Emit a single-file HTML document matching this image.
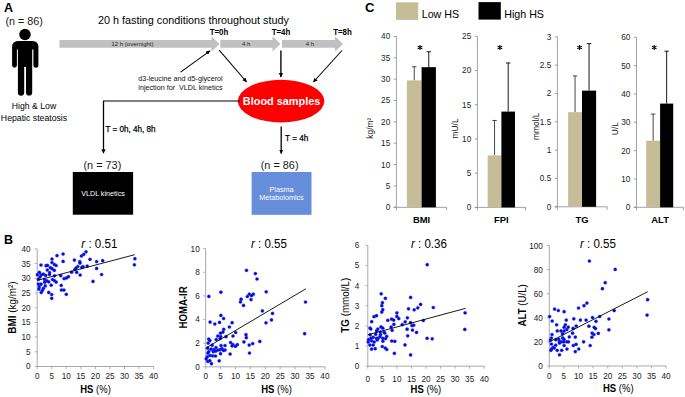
<!DOCTYPE html>
<html><head><meta charset="utf-8"><style>
html,body{margin:0;padding:0;background:#fff;}
svg{display:block;font-family:"Liberation Sans", sans-serif;}
</style></head><body>
<svg width="685" height="397" viewBox="0 0 685 397">
<rect width="685" height="397" fill="#fff"/>
<text x="4" y="11.5" font-size="12.5" font-weight="bold">A</text>
<text x="5.4" y="24.8" font-size="10.8" fill="#1a1a1a">(n = 86)</text>
<circle cx="25" cy="34.5" r="5.7" fill="#000"/>
<path d="M17.6 41 H32.9 A5.5 5.5 0 0 1 38.4 46.5 V65.3 A2.5 2.5 0 0 1 33.4 65.3 V49.5 H32.2 V92.5 A3.1 3.1 0 0 1 26.0 92.5 V67 H24.2 V92.5 A3.15 3.15 0 0 1 17.9 92.5 V49.5 H16.9 V65.3 A2.4 2.4 0 0 1 12.1 65.3 V46.5 A5.5 5.5 0 0 1 17.6 41 Z" fill="#000"/>
<text x="34" y="109.1" font-size="8.7" text-anchor="middle" textLength="44.4" lengthAdjust="spacingAndGlyphs">High &amp; Low</text>
<text x="34" y="120.9" font-size="8.7" text-anchor="middle" textLength="66.3" lengthAdjust="spacingAndGlyphs">Hepatic steatosis</text>
<text x="98" y="23.8" font-size="10.8">20 h fasting conditions throughout study</text>
<path d="M59.5 40 H211.5 V36.3 L219.5 43.9 L211.5 51.5 V47.8 H59.5 Z" fill="#c0c0c0"/>
<path d="M220.3 40 H272.5 V36.3 L280.5 43.9 L272.5 51.5 V47.8 H220.3 Z" fill="#c0c0c0"/>
<path d="M282 40 H335 V36.3 L343 43.9 L335 51.5 V47.8 H282 Z" fill="#c0c0c0"/>
<text x="132.5" y="46.2" font-size="6" text-anchor="middle" fill="#222">12 h (overnight)</text>
<text x="246.2" y="46.2" font-size="6" text-anchor="middle" fill="#222">4 h</text>
<text x="309.8" y="46.2" font-size="6" text-anchor="middle" fill="#222">4 h</text>
<text x="219.0" y="35.0" font-size="8.7" font-weight="bold" text-anchor="middle" textLength="18.6" lengthAdjust="spacingAndGlyphs">T=0h</text>
<text x="281.0" y="35.0" font-size="8.7" font-weight="bold" text-anchor="middle" textLength="18.6" lengthAdjust="spacingAndGlyphs">T=4h</text>
<text x="342.5" y="35.0" font-size="8.7" font-weight="bold" text-anchor="middle" textLength="18.6" lengthAdjust="spacingAndGlyphs">T=8h</text>
<defs><marker id="ah" markerWidth="6" markerHeight="6" refX="4" refY="3" orient="auto" markerUnits="userSpaceOnUse"><path d="M0 0.9 L4.4 3 L0 5.1 Z" fill="#000"/></marker></defs>
<line x1="180.6" y1="72.2" x2="210" y2="50.8" stroke="#000" stroke-width="1.05" marker-end="url(#ah)"/>
<line x1="219.2" y1="50.2" x2="246.6" y2="82" stroke="#000" stroke-width="1.05" marker-end="url(#ah)"/>
<line x1="280.9" y1="50.5" x2="280.9" y2="77" stroke="#000" stroke-width="1.35" marker-end="url(#ah)"/>
<line x1="342" y1="50.5" x2="313.4" y2="82" stroke="#000" stroke-width="1.05" marker-end="url(#ah)"/>
<text x="180.5" y="81.2" font-size="7.2" text-anchor="middle" fill="#111">d3-leucine and d5-glycerol</text>
<text x="180.5" y="89.6" font-size="7.2" text-anchor="middle" fill="#111">injection for&#160; VLDL kinetics</text>
<ellipse cx="281.1" cy="101.1" rx="43.3" ry="21.3" fill="#ff0000"/>
<text x="281.6" y="104.6" font-size="10.9" font-weight="bold" text-anchor="middle" fill="#fff">Blood samples</text>
<polyline points="240,101 103.5,101 103.5,148" fill="none" stroke="#000" stroke-width="1.1"/>
<line x1="103.5" y1="101" x2="103.5" y2="153.2" stroke="#000" stroke-width="1.2" marker-end="url(#ah)"/>
<text x="105.4" y="131.5" font-size="8.3" textLength="50.0" lengthAdjust="spacingAndGlyphs" stroke="#000" stroke-width="0.25">T = 0h, 4h, 8h</text>
<line x1="281.2" y1="126.4" x2="281.2" y2="153.5" stroke="#000" stroke-width="1.3" marker-end="url(#ah)"/>
<text x="285.0" y="140.8" font-size="8.3" textLength="23.3" lengthAdjust="spacingAndGlyphs" stroke="#000" stroke-width="0.25">T = 4h</text>
<text x="102.4" y="168.9" font-size="10.9" text-anchor="middle" fill="#1a1a1a">(n = 73)</text>
<text x="279.6" y="168.9" font-size="10.9" text-anchor="middle" fill="#1a1a1a">(n = 86)</text>
<rect x="72.8" y="172" width="60.3" height="42.7" fill="#000"/>
<text x="103" y="196" font-size="7.2" text-anchor="middle" fill="#fff">VLDL kinetics</text>
<rect x="251.6" y="172" width="59.9" height="42.8" fill="#678eda"/>
<text x="281.5" y="191.6" font-size="7.2" text-anchor="middle" fill="#fff">Plasma</text>
<text x="281.5" y="199.8" font-size="7.2" text-anchor="middle" fill="#fff">Metabolomics</text>
<text x="365" y="12.2" font-size="13" font-weight="bold">C</text>
<rect x="396" y="2.3" width="22.2" height="17.6" fill="#c4bd97"/>
<text x="421.7" y="17.8" font-size="10.7">Low HS</text>
<rect x="478.5" y="2.1" width="22.3" height="17.5" fill="#000"/>
<text x="504.2" y="18" font-size="10.7">High HS</text>
<line x1="396.4" y1="36.4" x2="396.4" y2="207.3" stroke="#8c8c8c" stroke-width="0.8"/>
<line x1="393.7" y1="207.3" x2="396.4" y2="207.3" stroke="#8c8c8c" stroke-width="0.8"/>
<text x="390.2" y="210.25" font-size="8.2" text-anchor="end" fill="#222">0</text>
<line x1="393.7" y1="185.9375" x2="396.4" y2="185.9375" stroke="#8c8c8c" stroke-width="0.8"/>
<text x="390.2" y="188.8875" font-size="8.2" text-anchor="end" fill="#222">5</text>
<line x1="393.7" y1="164.57500000000002" x2="396.4" y2="164.57500000000002" stroke="#8c8c8c" stroke-width="0.8"/>
<text x="390.2" y="167.525" font-size="8.2" text-anchor="end" fill="#222">10</text>
<line x1="393.7" y1="143.2125" x2="396.4" y2="143.2125" stroke="#8c8c8c" stroke-width="0.8"/>
<text x="390.2" y="146.1625" font-size="8.2" text-anchor="end" fill="#222">15</text>
<line x1="393.7" y1="121.85000000000001" x2="396.4" y2="121.85000000000001" stroke="#8c8c8c" stroke-width="0.8"/>
<text x="390.2" y="124.80000000000001" font-size="8.2" text-anchor="end" fill="#222">20</text>
<line x1="393.7" y1="100.48750000000001" x2="396.4" y2="100.48750000000001" stroke="#8c8c8c" stroke-width="0.8"/>
<text x="390.2" y="103.43750000000001" font-size="8.2" text-anchor="end" fill="#222">25</text>
<line x1="393.7" y1="79.125" x2="396.4" y2="79.125" stroke="#8c8c8c" stroke-width="0.8"/>
<text x="390.2" y="82.075" font-size="8.2" text-anchor="end" fill="#222">30</text>
<line x1="393.7" y1="57.76250000000002" x2="396.4" y2="57.76250000000002" stroke="#8c8c8c" stroke-width="0.8"/>
<text x="390.2" y="60.71250000000002" font-size="8.2" text-anchor="end" fill="#222">35</text>
<line x1="393.7" y1="36.400000000000006" x2="396.4" y2="36.400000000000006" stroke="#8c8c8c" stroke-width="0.8"/>
<text x="390.2" y="39.35000000000001" font-size="8.2" text-anchor="end" fill="#222">40</text>
<line x1="393.7" y1="207.3" x2="446.6" y2="207.3" stroke="#8c8c8c" stroke-width="0.8"/>
<line x1="446.6" y1="207.3" x2="446.6" y2="210.3" stroke="#8c8c8c" stroke-width="0.8"/>
<line x1="396.4" y1="207.3" x2="396.4" y2="210.3" stroke="#8c8c8c" stroke-width="0.8"/>
<line x1="414.25" y1="66.73475000000002" x2="414.25" y2="80.40675000000002" stroke="#333" stroke-width="0.9"/>
<line x1="412.05" y1="66.73475000000002" x2="416.45" y2="66.73475000000002" stroke="#333" stroke-width="0.9"/>
<line x1="428.75" y1="51.781000000000006" x2="428.75" y2="67.16200000000003" stroke="#000" stroke-width="0.9"/>
<line x1="426.55" y1="51.781000000000006" x2="430.95" y2="51.781000000000006" stroke="#000" stroke-width="0.9"/>
<rect x="406.9" y="80.40675000000002" width="14.700000000000045" height="126.89325" fill="#c4bd97"/>
<rect x="421.6" y="67.16200000000003" width="14.299999999999955" height="140.13799999999998" fill="#000"/>
<path d="M420.0 44.9 V50.1 M417.7 46.2 L422.3 48.8 M417.7 48.8 L422.3 46.2" stroke="#000" stroke-width="1.05" fill="none"/>
<text x="0" y="0" font-size="9.4" transform="translate(421.6 222.8) scale(1 1.06)" font-weight="bold" text-anchor="middle">BMI</text>
<text x="373.1" y="128.2" font-size="8.4" text-anchor="middle" fill="#222" transform="rotate(-90 373.1 128.2)">kg/m²</text>
<line x1="477.4" y1="36.3" x2="477.4" y2="207.4" stroke="#8c8c8c" stroke-width="0.8"/>
<line x1="474.7" y1="207.4" x2="477.4" y2="207.4" stroke="#8c8c8c" stroke-width="0.8"/>
<text x="471.2" y="210.35" font-size="8.2" text-anchor="end" fill="#222">0</text>
<line x1="474.7" y1="173.18" x2="477.4" y2="173.18" stroke="#8c8c8c" stroke-width="0.8"/>
<text x="471.2" y="176.13" font-size="8.2" text-anchor="end" fill="#222">5</text>
<line x1="474.7" y1="138.95999999999998" x2="477.4" y2="138.95999999999998" stroke="#8c8c8c" stroke-width="0.8"/>
<text x="471.2" y="141.90999999999997" font-size="8.2" text-anchor="end" fill="#222">10</text>
<line x1="474.7" y1="104.73999999999998" x2="477.4" y2="104.73999999999998" stroke="#8c8c8c" stroke-width="0.8"/>
<text x="471.2" y="107.68999999999998" font-size="8.2" text-anchor="end" fill="#222">15</text>
<line x1="474.7" y1="70.51999999999998" x2="477.4" y2="70.51999999999998" stroke="#8c8c8c" stroke-width="0.8"/>
<text x="471.2" y="73.46999999999998" font-size="8.2" text-anchor="end" fill="#222">20</text>
<line x1="474.7" y1="36.29999999999998" x2="477.4" y2="36.29999999999998" stroke="#8c8c8c" stroke-width="0.8"/>
<text x="471.2" y="39.249999999999986" font-size="8.2" text-anchor="end" fill="#222">25</text>
<line x1="474.7" y1="207.4" x2="525.5" y2="207.4" stroke="#8c8c8c" stroke-width="0.8"/>
<line x1="525.5" y1="207.4" x2="525.5" y2="210.4" stroke="#8c8c8c" stroke-width="0.8"/>
<line x1="477.4" y1="207.4" x2="477.4" y2="210.4" stroke="#8c8c8c" stroke-width="0.8"/>
<line x1="494.54999999999995" y1="120.4812" x2="494.54999999999995" y2="155.3856" stroke="#333" stroke-width="0.9"/>
<line x1="492.34999999999997" y1="120.4812" x2="496.74999999999994" y2="120.4812" stroke="#333" stroke-width="0.9"/>
<line x1="508.2" y1="62.99159999999998" x2="508.2" y2="111.58399999999999" stroke="#000" stroke-width="0.9"/>
<line x1="506.0" y1="62.99159999999998" x2="510.4" y2="62.99159999999998" stroke="#000" stroke-width="0.9"/>
<rect x="487.7" y="155.3856" width="13.699999999999989" height="52.01440000000001" fill="#c4bd97"/>
<rect x="501.4" y="111.58399999999999" width="13.600000000000023" height="95.81600000000002" fill="#000"/>
<path d="M499.9 44.9 V50.1 M497.59999999999997 46.2 L502.2 48.8 M497.59999999999997 48.8 L502.2 46.2" stroke="#000" stroke-width="1.05" fill="none"/>
<text x="0" y="0" font-size="9.4" transform="translate(501.4 222.8) scale(1 1.06)" font-weight="bold" text-anchor="middle">FPI</text>
<text x="457.6" y="128.4" font-size="8.4" text-anchor="middle" fill="#222" transform="rotate(-90 457.6 128.4)">mU/L</text>
<line x1="557.4" y1="36.8" x2="557.4" y2="206.8" stroke="#8c8c8c" stroke-width="0.8"/>
<line x1="554.6999999999999" y1="206.8" x2="557.4" y2="206.8" stroke="#8c8c8c" stroke-width="0.8"/>
<text x="551.1999999999999" y="209.75" font-size="8.2" text-anchor="end" fill="#222">0</text>
<line x1="554.6999999999999" y1="178.46666666666667" x2="557.4" y2="178.46666666666667" stroke="#8c8c8c" stroke-width="0.8"/>
<text x="551.1999999999999" y="181.41666666666666" font-size="8.2" text-anchor="end" fill="#222">0.5</text>
<line x1="554.6999999999999" y1="150.13333333333335" x2="557.4" y2="150.13333333333335" stroke="#8c8c8c" stroke-width="0.8"/>
<text x="551.1999999999999" y="153.08333333333334" font-size="8.2" text-anchor="end" fill="#222">1</text>
<line x1="554.6999999999999" y1="121.80000000000001" x2="557.4" y2="121.80000000000001" stroke="#8c8c8c" stroke-width="0.8"/>
<text x="551.1999999999999" y="124.75000000000001" font-size="8.2" text-anchor="end" fill="#222">1.5</text>
<line x1="554.6999999999999" y1="93.46666666666668" x2="557.4" y2="93.46666666666668" stroke="#8c8c8c" stroke-width="0.8"/>
<text x="551.1999999999999" y="96.41666666666669" font-size="8.2" text-anchor="end" fill="#222">2</text>
<line x1="554.6999999999999" y1="65.13333333333335" x2="557.4" y2="65.13333333333335" stroke="#8c8c8c" stroke-width="0.8"/>
<text x="551.1999999999999" y="68.08333333333336" font-size="8.2" text-anchor="end" fill="#222">2.5</text>
<line x1="554.6999999999999" y1="36.80000000000001" x2="557.4" y2="36.80000000000001" stroke="#8c8c8c" stroke-width="0.8"/>
<text x="551.1999999999999" y="39.750000000000014" font-size="8.2" text-anchor="end" fill="#222">3</text>
<line x1="554.6999999999999" y1="206.8" x2="607.1" y2="206.8" stroke="#8c8c8c" stroke-width="0.8"/>
<line x1="607.1" y1="206.8" x2="607.1" y2="209.8" stroke="#8c8c8c" stroke-width="0.8"/>
<line x1="557.4" y1="206.8" x2="557.4" y2="209.8" stroke="#8c8c8c" stroke-width="0.8"/>
<line x1="575.05" y1="75.9" x2="575.05" y2="112.16666666666669" stroke="#333" stroke-width="0.9"/>
<line x1="572.8499999999999" y1="75.9" x2="577.25" y2="75.9" stroke="#333" stroke-width="0.9"/>
<line x1="589.05" y1="43.60000000000002" x2="589.05" y2="90.63333333333335" stroke="#000" stroke-width="0.9"/>
<line x1="586.8499999999999" y1="43.60000000000002" x2="591.25" y2="43.60000000000002" stroke="#000" stroke-width="0.9"/>
<rect x="568.1" y="112.16666666666669" width="13.899999999999977" height="94.63333333333333" fill="#c4bd97"/>
<rect x="582.0" y="90.63333333333335" width="14.100000000000023" height="116.16666666666666" fill="#000"/>
<path d="M579.6 44.9 V50.1 M577.3000000000001 46.2 L581.9 48.8 M577.3000000000001 48.8 L581.9 46.2" stroke="#000" stroke-width="1.05" fill="none"/>
<text x="0" y="0" font-size="9.4" transform="translate(582.0 222.8) scale(1 1.06)" font-weight="bold" text-anchor="middle">TG</text>
<text x="539.2" y="126.3" font-size="8.4" text-anchor="middle" fill="#222" transform="rotate(-90 539.2 126.3)">mmol/L</text>
<line x1="636.5" y1="37.3" x2="636.5" y2="207.3" stroke="#8c8c8c" stroke-width="0.8"/>
<line x1="633.8" y1="207.3" x2="636.5" y2="207.3" stroke="#8c8c8c" stroke-width="0.8"/>
<text x="630.3" y="210.25" font-size="8.2" text-anchor="end" fill="#222">0</text>
<line x1="633.8" y1="178.96666666666667" x2="636.5" y2="178.96666666666667" stroke="#8c8c8c" stroke-width="0.8"/>
<text x="630.3" y="181.91666666666666" font-size="8.2" text-anchor="end" fill="#222">10</text>
<line x1="633.8" y1="150.63333333333333" x2="636.5" y2="150.63333333333333" stroke="#8c8c8c" stroke-width="0.8"/>
<text x="630.3" y="153.58333333333331" font-size="8.2" text-anchor="end" fill="#222">20</text>
<line x1="633.8" y1="122.30000000000001" x2="636.5" y2="122.30000000000001" stroke="#8c8c8c" stroke-width="0.8"/>
<text x="630.3" y="125.25000000000001" font-size="8.2" text-anchor="end" fill="#222">30</text>
<line x1="633.8" y1="93.96666666666667" x2="636.5" y2="93.96666666666667" stroke="#8c8c8c" stroke-width="0.8"/>
<text x="630.3" y="96.91666666666667" font-size="8.2" text-anchor="end" fill="#222">40</text>
<line x1="633.8" y1="65.63333333333333" x2="636.5" y2="65.63333333333333" stroke="#8c8c8c" stroke-width="0.8"/>
<text x="630.3" y="68.58333333333333" font-size="8.2" text-anchor="end" fill="#222">50</text>
<line x1="633.8" y1="37.30000000000001" x2="636.5" y2="37.30000000000001" stroke="#8c8c8c" stroke-width="0.8"/>
<text x="630.3" y="40.250000000000014" font-size="8.2" text-anchor="end" fill="#222">60</text>
<line x1="633.8" y1="207.3" x2="683.4" y2="207.3" stroke="#8c8c8c" stroke-width="0.8"/>
<line x1="683.4" y1="207.3" x2="683.4" y2="210.3" stroke="#8c8c8c" stroke-width="0.8"/>
<line x1="636.5" y1="207.3" x2="636.5" y2="210.3" stroke="#8c8c8c" stroke-width="0.8"/>
<line x1="653.1500000000001" y1="114.08333333333334" x2="653.1500000000001" y2="140.71666666666667" stroke="#333" stroke-width="0.9"/>
<line x1="650.95" y1="114.08333333333334" x2="655.3500000000001" y2="114.08333333333334" stroke="#333" stroke-width="0.9"/>
<line x1="666.6500000000001" y1="51.18333333333334" x2="666.6500000000001" y2="103.60000000000001" stroke="#000" stroke-width="0.9"/>
<line x1="664.45" y1="51.18333333333334" x2="668.8500000000001" y2="51.18333333333334" stroke="#000" stroke-width="0.9"/>
<rect x="646.2" y="140.71666666666667" width="13.899999999999977" height="66.58333333333334" fill="#c4bd97"/>
<rect x="660.1" y="103.60000000000001" width="13.100000000000023" height="103.7" fill="#000"/>
<path d="M654.2 44.9 V50.1 M651.9000000000001 46.2 L656.5 48.8 M651.9000000000001 48.8 L656.5 46.2" stroke="#000" stroke-width="1.05" fill="none"/>
<text x="0" y="0" font-size="9.4" transform="translate(660.1 222.8) scale(1 1.06)" font-weight="bold" text-anchor="middle">ALT</text>
<text x="617.7" y="128.6" font-size="8.4" text-anchor="middle" fill="#222" transform="rotate(-90 617.7 128.6)">U/L</text>
<text x="4" y="244" font-size="12.5" font-weight="bold">B</text>
<line x1="37.2" y1="248.9" x2="37.2" y2="366.5" stroke="#a8a8a8" stroke-width="1.0"/>
<line x1="34.7" y1="366.5" x2="37.2" y2="366.5" stroke="#a8a8a8" stroke-width="0.9"/>
<text x="30.6" y="369.45" font-size="8.2" text-anchor="end" fill="#222">0</text>
<line x1="34.7" y1="351.8" x2="37.2" y2="351.8" stroke="#a8a8a8" stroke-width="0.9"/>
<text x="30.6" y="354.75" font-size="8.2" text-anchor="end" fill="#222">5</text>
<line x1="34.7" y1="337.1" x2="37.2" y2="337.1" stroke="#a8a8a8" stroke-width="0.9"/>
<text x="30.6" y="340.05" font-size="8.2" text-anchor="end" fill="#222">10</text>
<line x1="34.7" y1="322.4" x2="37.2" y2="322.4" stroke="#a8a8a8" stroke-width="0.9"/>
<text x="30.6" y="325.34999999999997" font-size="8.2" text-anchor="end" fill="#222">15</text>
<line x1="34.7" y1="307.7" x2="37.2" y2="307.7" stroke="#a8a8a8" stroke-width="0.9"/>
<text x="30.6" y="310.65" font-size="8.2" text-anchor="end" fill="#222">20</text>
<line x1="34.7" y1="293.0" x2="37.2" y2="293.0" stroke="#a8a8a8" stroke-width="0.9"/>
<text x="30.6" y="295.95" font-size="8.2" text-anchor="end" fill="#222">25</text>
<line x1="34.7" y1="278.3" x2="37.2" y2="278.3" stroke="#a8a8a8" stroke-width="0.9"/>
<text x="30.6" y="281.25" font-size="8.2" text-anchor="end" fill="#222">30</text>
<line x1="34.7" y1="263.6" x2="37.2" y2="263.6" stroke="#a8a8a8" stroke-width="0.9"/>
<text x="30.6" y="266.55" font-size="8.2" text-anchor="end" fill="#222">35</text>
<line x1="34.7" y1="248.9" x2="37.2" y2="248.9" stroke="#a8a8a8" stroke-width="0.9"/>
<text x="30.6" y="251.85" font-size="8.2" text-anchor="end" fill="#222">40</text>
<line x1="37.2" y1="366.5" x2="153.6" y2="366.5" stroke="#a8a8a8" stroke-width="1.0"/>
<line x1="37.2" y1="366.5" x2="37.2" y2="369.0" stroke="#a8a8a8" stroke-width="0.9"/>
<text x="37.2" y="378.9" font-size="8.2" text-anchor="middle" fill="#222">0</text>
<line x1="51.75" y1="366.5" x2="51.75" y2="369.0" stroke="#a8a8a8" stroke-width="0.9"/>
<text x="51.75" y="378.9" font-size="8.2" text-anchor="middle" fill="#222">5</text>
<line x1="66.3" y1="366.5" x2="66.3" y2="369.0" stroke="#a8a8a8" stroke-width="0.9"/>
<text x="66.3" y="378.9" font-size="8.2" text-anchor="middle" fill="#222">10</text>
<line x1="80.85" y1="366.5" x2="80.85" y2="369.0" stroke="#a8a8a8" stroke-width="0.9"/>
<text x="80.85" y="378.9" font-size="8.2" text-anchor="middle" fill="#222">15</text>
<line x1="95.4" y1="366.5" x2="95.4" y2="369.0" stroke="#a8a8a8" stroke-width="0.9"/>
<text x="95.4" y="378.9" font-size="8.2" text-anchor="middle" fill="#222">20</text>
<line x1="109.94999999999999" y1="366.5" x2="109.94999999999999" y2="369.0" stroke="#a8a8a8" stroke-width="0.9"/>
<text x="109.94999999999999" y="378.9" font-size="8.2" text-anchor="middle" fill="#222">25</text>
<line x1="124.5" y1="366.5" x2="124.5" y2="369.0" stroke="#a8a8a8" stroke-width="0.9"/>
<text x="124.5" y="378.9" font-size="8.2" text-anchor="middle" fill="#222">30</text>
<line x1="139.05" y1="366.5" x2="139.05" y2="369.0" stroke="#a8a8a8" stroke-width="0.9"/>
<text x="139.05" y="378.9" font-size="8.2" text-anchor="middle" fill="#222">35</text>
<line x1="153.6" y1="366.5" x2="153.6" y2="369.0" stroke="#a8a8a8" stroke-width="0.9"/>
<text x="153.6" y="378.9" font-size="8.2" text-anchor="middle" fill="#222">40</text>
<circle cx="57.0" cy="255.6" r="1.6" fill="#0000ff" stroke="#2f4fa8" stroke-width="0.7" stroke-opacity="0.55"/>
<circle cx="63.1" cy="254.0" r="1.6" fill="#0000ff" stroke="#2f4fa8" stroke-width="0.7" stroke-opacity="0.55"/>
<circle cx="63.1" cy="261.4" r="1.6" fill="#0000ff" stroke="#2f4fa8" stroke-width="0.7" stroke-opacity="0.55"/>
<circle cx="52.0" cy="259.0" r="1.6" fill="#0000ff" stroke="#2f4fa8" stroke-width="0.7" stroke-opacity="0.55"/>
<circle cx="52.0" cy="262.5" r="1.6" fill="#0000ff" stroke="#2f4fa8" stroke-width="0.7" stroke-opacity="0.55"/>
<circle cx="41.0" cy="265.0" r="1.6" fill="#0000ff" stroke="#2f4fa8" stroke-width="0.7" stroke-opacity="0.55"/>
<circle cx="46.0" cy="265.7" r="1.6" fill="#0000ff" stroke="#2f4fa8" stroke-width="0.7" stroke-opacity="0.55"/>
<circle cx="47.5" cy="265.3" r="1.6" fill="#0000ff" stroke="#2f4fa8" stroke-width="0.7" stroke-opacity="0.55"/>
<circle cx="54.4" cy="264.5" r="1.6" fill="#0000ff" stroke="#2f4fa8" stroke-width="0.7" stroke-opacity="0.55"/>
<circle cx="56.1" cy="265.5" r="1.6" fill="#0000ff" stroke="#2f4fa8" stroke-width="0.7" stroke-opacity="0.55"/>
<circle cx="50.3" cy="267.6" r="1.6" fill="#0000ff" stroke="#2f4fa8" stroke-width="0.7" stroke-opacity="0.55"/>
<circle cx="52.1" cy="268.7" r="1.6" fill="#0000ff" stroke="#2f4fa8" stroke-width="0.7" stroke-opacity="0.55"/>
<circle cx="47.3" cy="270.0" r="1.6" fill="#0000ff" stroke="#2f4fa8" stroke-width="0.7" stroke-opacity="0.55"/>
<circle cx="54.3" cy="270.3" r="1.6" fill="#0000ff" stroke="#2f4fa8" stroke-width="0.7" stroke-opacity="0.55"/>
<circle cx="49.6" cy="272.5" r="1.6" fill="#0000ff" stroke="#2f4fa8" stroke-width="0.7" stroke-opacity="0.55"/>
<circle cx="39.4" cy="272.3" r="1.6" fill="#0000ff" stroke="#2f4fa8" stroke-width="0.7" stroke-opacity="0.55"/>
<circle cx="37.4" cy="274.7" r="1.6" fill="#0000ff" stroke="#2f4fa8" stroke-width="0.7" stroke-opacity="0.55"/>
<circle cx="41.2" cy="274.8" r="1.6" fill="#0000ff" stroke="#2f4fa8" stroke-width="0.7" stroke-opacity="0.55"/>
<circle cx="43.4" cy="274.1" r="1.6" fill="#0000ff" stroke="#2f4fa8" stroke-width="0.7" stroke-opacity="0.55"/>
<circle cx="45.7" cy="275.4" r="1.6" fill="#0000ff" stroke="#2f4fa8" stroke-width="0.7" stroke-opacity="0.55"/>
<circle cx="49.5" cy="274.4" r="1.6" fill="#0000ff" stroke="#2f4fa8" stroke-width="0.7" stroke-opacity="0.55"/>
<circle cx="40.0" cy="277.0" r="1.6" fill="#0000ff" stroke="#2f4fa8" stroke-width="0.7" stroke-opacity="0.55"/>
<circle cx="54.5" cy="275.8" r="1.6" fill="#0000ff" stroke="#2f4fa8" stroke-width="0.7" stroke-opacity="0.55"/>
<circle cx="60.8" cy="275.7" r="1.6" fill="#0000ff" stroke="#2f4fa8" stroke-width="0.7" stroke-opacity="0.55"/>
<circle cx="64.1" cy="278.6" r="1.6" fill="#0000ff" stroke="#2f4fa8" stroke-width="0.7" stroke-opacity="0.55"/>
<circle cx="66.5" cy="277.9" r="1.6" fill="#0000ff" stroke="#2f4fa8" stroke-width="0.7" stroke-opacity="0.55"/>
<circle cx="68.4" cy="276.7" r="1.6" fill="#0000ff" stroke="#2f4fa8" stroke-width="0.7" stroke-opacity="0.55"/>
<circle cx="71.6" cy="272.2" r="1.6" fill="#0000ff" stroke="#2f4fa8" stroke-width="0.7" stroke-opacity="0.55"/>
<circle cx="74.4" cy="260.1" r="1.6" fill="#0000ff" stroke="#2f4fa8" stroke-width="0.7" stroke-opacity="0.55"/>
<circle cx="74.8" cy="269.5" r="1.6" fill="#0000ff" stroke="#2f4fa8" stroke-width="0.7" stroke-opacity="0.55"/>
<circle cx="76.7" cy="272.3" r="1.6" fill="#0000ff" stroke="#2f4fa8" stroke-width="0.7" stroke-opacity="0.55"/>
<circle cx="77.8" cy="266.5" r="1.6" fill="#0000ff" stroke="#2f4fa8" stroke-width="0.7" stroke-opacity="0.55"/>
<circle cx="76.1" cy="268.0" r="1.6" fill="#0000ff" stroke="#2f4fa8" stroke-width="0.7" stroke-opacity="0.55"/>
<circle cx="79.8" cy="261.7" r="1.6" fill="#0000ff" stroke="#2f4fa8" stroke-width="0.7" stroke-opacity="0.55"/>
<circle cx="80.0" cy="263.1" r="1.6" fill="#0000ff" stroke="#2f4fa8" stroke-width="0.7" stroke-opacity="0.55"/>
<circle cx="81.4" cy="256.0" r="1.6" fill="#0000ff" stroke="#2f4fa8" stroke-width="0.7" stroke-opacity="0.55"/>
<circle cx="83.7" cy="254.4" r="1.6" fill="#0000ff" stroke="#2f4fa8" stroke-width="0.7" stroke-opacity="0.55"/>
<circle cx="86.0" cy="251.8" r="1.6" fill="#0000ff" stroke="#2f4fa8" stroke-width="0.7" stroke-opacity="0.55"/>
<circle cx="83.0" cy="266.6" r="1.6" fill="#0000ff" stroke="#2f4fa8" stroke-width="0.7" stroke-opacity="0.55"/>
<circle cx="81.8" cy="267.5" r="1.6" fill="#0000ff" stroke="#2f4fa8" stroke-width="0.7" stroke-opacity="0.55"/>
<circle cx="80.2" cy="275.0" r="1.6" fill="#0000ff" stroke="#2f4fa8" stroke-width="0.7" stroke-opacity="0.55"/>
<circle cx="90.0" cy="259.3" r="1.6" fill="#0000ff" stroke="#2f4fa8" stroke-width="0.7" stroke-opacity="0.55"/>
<circle cx="96.6" cy="261.6" r="1.6" fill="#0000ff" stroke="#2f4fa8" stroke-width="0.7" stroke-opacity="0.55"/>
<circle cx="102.7" cy="260.7" r="1.6" fill="#0000ff" stroke="#2f4fa8" stroke-width="0.7" stroke-opacity="0.55"/>
<circle cx="87.2" cy="266.0" r="1.6" fill="#0000ff" stroke="#2f4fa8" stroke-width="0.7" stroke-opacity="0.55"/>
<circle cx="96.6" cy="268.4" r="1.6" fill="#0000ff" stroke="#2f4fa8" stroke-width="0.7" stroke-opacity="0.55"/>
<circle cx="101.6" cy="274.5" r="1.6" fill="#0000ff" stroke="#2f4fa8" stroke-width="0.7" stroke-opacity="0.55"/>
<circle cx="93.0" cy="281.4" r="1.6" fill="#0000ff" stroke="#2f4fa8" stroke-width="0.7" stroke-opacity="0.55"/>
<circle cx="134.9" cy="258.7" r="1.6" fill="#0000ff" stroke="#2f4fa8" stroke-width="0.7" stroke-opacity="0.55"/>
<circle cx="134.4" cy="264.8" r="1.6" fill="#0000ff" stroke="#2f4fa8" stroke-width="0.7" stroke-opacity="0.55"/>
<circle cx="38.5" cy="279.2" r="1.6" fill="#0000ff" stroke="#2f4fa8" stroke-width="0.7" stroke-opacity="0.55"/>
<circle cx="44.6" cy="279.5" r="1.6" fill="#0000ff" stroke="#2f4fa8" stroke-width="0.7" stroke-opacity="0.55"/>
<circle cx="45.3" cy="280.9" r="1.6" fill="#0000ff" stroke="#2f4fa8" stroke-width="0.7" stroke-opacity="0.55"/>
<circle cx="46.8" cy="280.9" r="1.6" fill="#0000ff" stroke="#2f4fa8" stroke-width="0.7" stroke-opacity="0.55"/>
<circle cx="48.7" cy="281.8" r="1.6" fill="#0000ff" stroke="#2f4fa8" stroke-width="0.7" stroke-opacity="0.55"/>
<circle cx="44.6" cy="282.3" r="1.6" fill="#0000ff" stroke="#2f4fa8" stroke-width="0.7" stroke-opacity="0.55"/>
<circle cx="52.5" cy="279.5" r="1.6" fill="#0000ff" stroke="#2f4fa8" stroke-width="0.7" stroke-opacity="0.55"/>
<circle cx="54.4" cy="280.6" r="1.6" fill="#0000ff" stroke="#2f4fa8" stroke-width="0.7" stroke-opacity="0.55"/>
<circle cx="56.2" cy="282.1" r="1.6" fill="#0000ff" stroke="#2f4fa8" stroke-width="0.7" stroke-opacity="0.55"/>
<circle cx="38.4" cy="284.0" r="1.6" fill="#0000ff" stroke="#2f4fa8" stroke-width="0.7" stroke-opacity="0.55"/>
<circle cx="41.0" cy="284.2" r="1.6" fill="#0000ff" stroke="#2f4fa8" stroke-width="0.7" stroke-opacity="0.55"/>
<circle cx="45.3" cy="285.9" r="1.6" fill="#0000ff" stroke="#2f4fa8" stroke-width="0.7" stroke-opacity="0.55"/>
<circle cx="51.2" cy="285.2" r="1.6" fill="#0000ff" stroke="#2f4fa8" stroke-width="0.7" stroke-opacity="0.55"/>
<circle cx="61.2" cy="285.4" r="1.6" fill="#0000ff" stroke="#2f4fa8" stroke-width="0.7" stroke-opacity="0.55"/>
<circle cx="39.3" cy="286.7" r="1.6" fill="#0000ff" stroke="#2f4fa8" stroke-width="0.7" stroke-opacity="0.55"/>
<circle cx="43.4" cy="288.3" r="1.6" fill="#0000ff" stroke="#2f4fa8" stroke-width="0.7" stroke-opacity="0.55"/>
<circle cx="38.9" cy="289.1" r="1.6" fill="#0000ff" stroke="#2f4fa8" stroke-width="0.7" stroke-opacity="0.55"/>
<circle cx="42.3" cy="290.6" r="1.6" fill="#0000ff" stroke="#2f4fa8" stroke-width="0.7" stroke-opacity="0.55"/>
<circle cx="41.2" cy="292.5" r="1.6" fill="#0000ff" stroke="#2f4fa8" stroke-width="0.7" stroke-opacity="0.55"/>
<circle cx="48.7" cy="292.4" r="1.6" fill="#0000ff" stroke="#2f4fa8" stroke-width="0.7" stroke-opacity="0.55"/>
<circle cx="51.7" cy="294.5" r="1.6" fill="#0000ff" stroke="#2f4fa8" stroke-width="0.7" stroke-opacity="0.55"/>
<circle cx="51.7" cy="298.3" r="1.6" fill="#0000ff" stroke="#2f4fa8" stroke-width="0.7" stroke-opacity="0.55"/>
<circle cx="61.4" cy="290.0" r="1.6" fill="#0000ff" stroke="#2f4fa8" stroke-width="0.7" stroke-opacity="0.55"/>
<circle cx="63.9" cy="290.0" r="1.6" fill="#0000ff" stroke="#2f4fa8" stroke-width="0.7" stroke-opacity="0.55"/>
<circle cx="66.3" cy="294.3" r="1.6" fill="#0000ff" stroke="#2f4fa8" stroke-width="0.7" stroke-opacity="0.55"/>
<line x1="37.2" y1="280.4" x2="134.7" y2="254.7" stroke="#000" stroke-width="0.9"/>
<text x="0" y="0" font-size="9.5" text-anchor="middle" transform="translate(95.5 393.0) scale(1 1.13)"><tspan font-weight="bold">HS</tspan> (%)</text>
<text x="0" y="0" font-size="9.9" text-anchor="middle" transform="translate(15.9 307.6) rotate(-90) scale(1 1.13)"><tspan font-weight="bold">BMI</tspan> (kg/m²)</text>
<text x="0" y="0" font-size="11.6" transform="translate(81.3 248) scale(1 1.03)"><tspan font-style="italic">r</tspan> : 0.51</text>
<line x1="205.7" y1="248.6" x2="205.7" y2="366.8" stroke="#a8a8a8" stroke-width="1.0"/>
<line x1="203.2" y1="366.8" x2="205.7" y2="366.8" stroke="#a8a8a8" stroke-width="0.9"/>
<text x="199.7" y="369.75" font-size="8.2" text-anchor="end" fill="#222">0</text>
<line x1="203.2" y1="343.16" x2="205.7" y2="343.16" stroke="#a8a8a8" stroke-width="0.9"/>
<text x="199.7" y="346.11" font-size="8.2" text-anchor="end" fill="#222">2</text>
<line x1="203.2" y1="319.52" x2="205.7" y2="319.52" stroke="#a8a8a8" stroke-width="0.9"/>
<text x="199.7" y="322.46999999999997" font-size="8.2" text-anchor="end" fill="#222">4</text>
<line x1="203.2" y1="295.88" x2="205.7" y2="295.88" stroke="#a8a8a8" stroke-width="0.9"/>
<text x="199.7" y="298.83" font-size="8.2" text-anchor="end" fill="#222">6</text>
<line x1="203.2" y1="272.24" x2="205.7" y2="272.24" stroke="#a8a8a8" stroke-width="0.9"/>
<text x="199.7" y="275.19" font-size="8.2" text-anchor="end" fill="#222">8</text>
<line x1="203.2" y1="248.6" x2="205.7" y2="248.6" stroke="#a8a8a8" stroke-width="0.9"/>
<text x="199.7" y="251.54999999999998" font-size="8.2" text-anchor="end" fill="#222">10</text>
<line x1="205.7" y1="366.8" x2="324.9" y2="366.8" stroke="#a8a8a8" stroke-width="1.0"/>
<line x1="205.7" y1="366.8" x2="205.7" y2="369.3" stroke="#a8a8a8" stroke-width="0.9"/>
<text x="205.7" y="379.3" font-size="8.2" text-anchor="middle" fill="#222">0</text>
<line x1="220.6" y1="366.8" x2="220.6" y2="369.3" stroke="#a8a8a8" stroke-width="0.9"/>
<text x="220.6" y="379.3" font-size="8.2" text-anchor="middle" fill="#222">5</text>
<line x1="235.5" y1="366.8" x2="235.5" y2="369.3" stroke="#a8a8a8" stroke-width="0.9"/>
<text x="235.5" y="379.3" font-size="8.2" text-anchor="middle" fill="#222">10</text>
<line x1="250.39999999999998" y1="366.8" x2="250.39999999999998" y2="369.3" stroke="#a8a8a8" stroke-width="0.9"/>
<text x="250.39999999999998" y="379.3" font-size="8.2" text-anchor="middle" fill="#222">15</text>
<line x1="265.29999999999995" y1="366.8" x2="265.29999999999995" y2="369.3" stroke="#a8a8a8" stroke-width="0.9"/>
<text x="265.29999999999995" y="379.3" font-size="8.2" text-anchor="middle" fill="#222">20</text>
<line x1="280.2" y1="366.8" x2="280.2" y2="369.3" stroke="#a8a8a8" stroke-width="0.9"/>
<text x="280.2" y="379.3" font-size="8.2" text-anchor="middle" fill="#222">25</text>
<line x1="295.09999999999997" y1="366.8" x2="295.09999999999997" y2="369.3" stroke="#a8a8a8" stroke-width="0.9"/>
<text x="295.09999999999997" y="379.3" font-size="8.2" text-anchor="middle" fill="#222">30</text>
<line x1="310.0" y1="366.8" x2="310.0" y2="369.3" stroke="#a8a8a8" stroke-width="0.9"/>
<text x="310.0" y="379.3" font-size="8.2" text-anchor="middle" fill="#222">35</text>
<line x1="324.9" y1="366.8" x2="324.9" y2="369.3" stroke="#a8a8a8" stroke-width="0.9"/>
<text x="324.9" y="379.3" font-size="8.2" text-anchor="middle" fill="#222">40</text>
<circle cx="246.5" cy="270.3" r="1.6" fill="#0000ff" stroke="#2f4fa8" stroke-width="0.7" stroke-opacity="0.55"/>
<circle cx="255.4" cy="273.6" r="1.6" fill="#0000ff" stroke="#2f4fa8" stroke-width="0.7" stroke-opacity="0.55"/>
<circle cx="257.0" cy="279.0" r="1.6" fill="#0000ff" stroke="#2f4fa8" stroke-width="0.7" stroke-opacity="0.55"/>
<circle cx="220.9" cy="292.2" r="1.6" fill="#0000ff" stroke="#2f4fa8" stroke-width="0.7" stroke-opacity="0.55"/>
<circle cx="249.3" cy="294.2" r="1.6" fill="#0000ff" stroke="#2f4fa8" stroke-width="0.7" stroke-opacity="0.55"/>
<circle cx="253.3" cy="294.2" r="1.6" fill="#0000ff" stroke="#2f4fa8" stroke-width="0.7" stroke-opacity="0.55"/>
<circle cx="208.9" cy="296.4" r="1.6" fill="#0000ff" stroke="#2f4fa8" stroke-width="0.7" stroke-opacity="0.55"/>
<circle cx="247.3" cy="296.5" r="1.6" fill="#0000ff" stroke="#2f4fa8" stroke-width="0.7" stroke-opacity="0.55"/>
<circle cx="251.5" cy="295.6" r="1.6" fill="#0000ff" stroke="#2f4fa8" stroke-width="0.7" stroke-opacity="0.55"/>
<circle cx="251.0" cy="299.6" r="1.6" fill="#0000ff" stroke="#2f4fa8" stroke-width="0.7" stroke-opacity="0.55"/>
<circle cx="241.1" cy="299.2" r="1.6" fill="#0000ff" stroke="#2f4fa8" stroke-width="0.7" stroke-opacity="0.55"/>
<circle cx="240.5" cy="301.9" r="1.6" fill="#0000ff" stroke="#2f4fa8" stroke-width="0.7" stroke-opacity="0.55"/>
<circle cx="243.5" cy="305.4" r="1.6" fill="#0000ff" stroke="#2f4fa8" stroke-width="0.7" stroke-opacity="0.55"/>
<circle cx="266.2" cy="291.8" r="1.6" fill="#0000ff" stroke="#2f4fa8" stroke-width="0.7" stroke-opacity="0.55"/>
<circle cx="262.4" cy="310.9" r="1.6" fill="#0000ff" stroke="#2f4fa8" stroke-width="0.7" stroke-opacity="0.55"/>
<circle cx="272.5" cy="313.4" r="1.6" fill="#0000ff" stroke="#2f4fa8" stroke-width="0.7" stroke-opacity="0.55"/>
<circle cx="271.5" cy="319.9" r="1.6" fill="#0000ff" stroke="#2f4fa8" stroke-width="0.7" stroke-opacity="0.55"/>
<circle cx="266.0" cy="322.8" r="1.6" fill="#0000ff" stroke="#2f4fa8" stroke-width="0.7" stroke-opacity="0.55"/>
<circle cx="305.5" cy="302.0" r="1.6" fill="#0000ff" stroke="#2f4fa8" stroke-width="0.7" stroke-opacity="0.55"/>
<circle cx="304.6" cy="333.7" r="1.6" fill="#0000ff" stroke="#2f4fa8" stroke-width="0.7" stroke-opacity="0.55"/>
<circle cx="220.9" cy="315.4" r="1.6" fill="#0000ff" stroke="#2f4fa8" stroke-width="0.7" stroke-opacity="0.55"/>
<circle cx="223.6" cy="318.5" r="1.6" fill="#0000ff" stroke="#2f4fa8" stroke-width="0.7" stroke-opacity="0.55"/>
<circle cx="210.1" cy="322.1" r="1.6" fill="#0000ff" stroke="#2f4fa8" stroke-width="0.7" stroke-opacity="0.55"/>
<circle cx="214.8" cy="324.0" r="1.6" fill="#0000ff" stroke="#2f4fa8" stroke-width="0.7" stroke-opacity="0.55"/>
<circle cx="219.5" cy="322.4" r="1.6" fill="#0000ff" stroke="#2f4fa8" stroke-width="0.7" stroke-opacity="0.55"/>
<circle cx="232.1" cy="322.7" r="1.6" fill="#0000ff" stroke="#2f4fa8" stroke-width="0.7" stroke-opacity="0.55"/>
<circle cx="229.4" cy="327.0" r="1.6" fill="#0000ff" stroke="#2f4fa8" stroke-width="0.7" stroke-opacity="0.55"/>
<circle cx="223.7" cy="329.3" r="1.6" fill="#0000ff" stroke="#2f4fa8" stroke-width="0.7" stroke-opacity="0.55"/>
<circle cx="223.0" cy="332.1" r="1.6" fill="#0000ff" stroke="#2f4fa8" stroke-width="0.7" stroke-opacity="0.55"/>
<circle cx="220.5" cy="333.2" r="1.6" fill="#0000ff" stroke="#2f4fa8" stroke-width="0.7" stroke-opacity="0.55"/>
<circle cx="235.7" cy="332.5" r="1.6" fill="#0000ff" stroke="#2f4fa8" stroke-width="0.7" stroke-opacity="0.55"/>
<circle cx="217.7" cy="336.0" r="1.6" fill="#0000ff" stroke="#2f4fa8" stroke-width="0.7" stroke-opacity="0.55"/>
<circle cx="220.7" cy="336.7" r="1.6" fill="#0000ff" stroke="#2f4fa8" stroke-width="0.7" stroke-opacity="0.55"/>
<circle cx="226.0" cy="336.7" r="1.6" fill="#0000ff" stroke="#2f4fa8" stroke-width="0.7" stroke-opacity="0.55"/>
<circle cx="233.0" cy="336.0" r="1.6" fill="#0000ff" stroke="#2f4fa8" stroke-width="0.7" stroke-opacity="0.55"/>
<circle cx="208.7" cy="339.0" r="1.6" fill="#0000ff" stroke="#2f4fa8" stroke-width="0.7" stroke-opacity="0.55"/>
<circle cx="209.9" cy="340.6" r="1.6" fill="#0000ff" stroke="#2f4fa8" stroke-width="0.7" stroke-opacity="0.55"/>
<circle cx="216.2" cy="339.5" r="1.6" fill="#0000ff" stroke="#2f4fa8" stroke-width="0.7" stroke-opacity="0.55"/>
<circle cx="220.1" cy="338.6" r="1.6" fill="#0000ff" stroke="#2f4fa8" stroke-width="0.7" stroke-opacity="0.55"/>
<circle cx="208.2" cy="343.1" r="1.6" fill="#0000ff" stroke="#2f4fa8" stroke-width="0.7" stroke-opacity="0.55"/>
<circle cx="212.2" cy="345.2" r="1.6" fill="#0000ff" stroke="#2f4fa8" stroke-width="0.7" stroke-opacity="0.55"/>
<circle cx="221.0" cy="345.5" r="1.6" fill="#0000ff" stroke="#2f4fa8" stroke-width="0.7" stroke-opacity="0.55"/>
<circle cx="225.0" cy="345.5" r="1.6" fill="#0000ff" stroke="#2f4fa8" stroke-width="0.7" stroke-opacity="0.55"/>
<circle cx="230.6" cy="342.5" r="1.6" fill="#0000ff" stroke="#2f4fa8" stroke-width="0.7" stroke-opacity="0.55"/>
<circle cx="232.9" cy="344.6" r="1.6" fill="#0000ff" stroke="#2f4fa8" stroke-width="0.7" stroke-opacity="0.55"/>
<circle cx="237.3" cy="344.7" r="1.6" fill="#0000ff" stroke="#2f4fa8" stroke-width="0.7" stroke-opacity="0.55"/>
<circle cx="232.1" cy="345.9" r="1.6" fill="#0000ff" stroke="#2f4fa8" stroke-width="0.7" stroke-opacity="0.55"/>
<circle cx="235.4" cy="346.3" r="1.6" fill="#0000ff" stroke="#2f4fa8" stroke-width="0.7" stroke-opacity="0.55"/>
<circle cx="207.7" cy="348.2" r="1.6" fill="#0000ff" stroke="#2f4fa8" stroke-width="0.7" stroke-opacity="0.55"/>
<circle cx="211.1" cy="349.2" r="1.6" fill="#0000ff" stroke="#2f4fa8" stroke-width="0.7" stroke-opacity="0.55"/>
<circle cx="213.7" cy="349.7" r="1.6" fill="#0000ff" stroke="#2f4fa8" stroke-width="0.7" stroke-opacity="0.55"/>
<circle cx="216.0" cy="347.5" r="1.6" fill="#0000ff" stroke="#2f4fa8" stroke-width="0.7" stroke-opacity="0.55"/>
<circle cx="217.9" cy="350.1" r="1.6" fill="#0000ff" stroke="#2f4fa8" stroke-width="0.7" stroke-opacity="0.55"/>
<circle cx="220.1" cy="349.7" r="1.6" fill="#0000ff" stroke="#2f4fa8" stroke-width="0.7" stroke-opacity="0.55"/>
<circle cx="222.0" cy="348.6" r="1.6" fill="#0000ff" stroke="#2f4fa8" stroke-width="0.7" stroke-opacity="0.55"/>
<circle cx="225.1" cy="350.0" r="1.6" fill="#0000ff" stroke="#2f4fa8" stroke-width="0.7" stroke-opacity="0.55"/>
<circle cx="223.5" cy="350.5" r="1.6" fill="#0000ff" stroke="#2f4fa8" stroke-width="0.7" stroke-opacity="0.55"/>
<circle cx="208.8" cy="351.5" r="1.6" fill="#0000ff" stroke="#2f4fa8" stroke-width="0.7" stroke-opacity="0.55"/>
<circle cx="213.3" cy="351.6" r="1.6" fill="#0000ff" stroke="#2f4fa8" stroke-width="0.7" stroke-opacity="0.55"/>
<circle cx="215.6" cy="351.2" r="1.6" fill="#0000ff" stroke="#2f4fa8" stroke-width="0.7" stroke-opacity="0.55"/>
<circle cx="207.9" cy="353.1" r="1.6" fill="#0000ff" stroke="#2f4fa8" stroke-width="0.7" stroke-opacity="0.55"/>
<circle cx="220.5" cy="353.7" r="1.6" fill="#0000ff" stroke="#2f4fa8" stroke-width="0.7" stroke-opacity="0.55"/>
<circle cx="230.1" cy="354.0" r="1.6" fill="#0000ff" stroke="#2f4fa8" stroke-width="0.7" stroke-opacity="0.55"/>
<circle cx="207.3" cy="356.8" r="1.6" fill="#0000ff" stroke="#2f4fa8" stroke-width="0.7" stroke-opacity="0.55"/>
<circle cx="210.0" cy="355.5" r="1.6" fill="#0000ff" stroke="#2f4fa8" stroke-width="0.7" stroke-opacity="0.55"/>
<circle cx="212.6" cy="355.8" r="1.6" fill="#0000ff" stroke="#2f4fa8" stroke-width="0.7" stroke-opacity="0.55"/>
<circle cx="215.5" cy="356.0" r="1.6" fill="#0000ff" stroke="#2f4fa8" stroke-width="0.7" stroke-opacity="0.55"/>
<circle cx="206.2" cy="358.8" r="1.6" fill="#0000ff" stroke="#2f4fa8" stroke-width="0.7" stroke-opacity="0.55"/>
<circle cx="207.9" cy="361.4" r="1.6" fill="#0000ff" stroke="#2f4fa8" stroke-width="0.7" stroke-opacity="0.55"/>
<circle cx="209.9" cy="360.7" r="1.6" fill="#0000ff" stroke="#2f4fa8" stroke-width="0.7" stroke-opacity="0.55"/>
<circle cx="219.2" cy="360.8" r="1.6" fill="#0000ff" stroke="#2f4fa8" stroke-width="0.7" stroke-opacity="0.55"/>
<circle cx="211.5" cy="363.7" r="1.6" fill="#0000ff" stroke="#2f4fa8" stroke-width="0.7" stroke-opacity="0.55"/>
<circle cx="246.0" cy="334.7" r="1.6" fill="#0000ff" stroke="#2f4fa8" stroke-width="0.7" stroke-opacity="0.55"/>
<circle cx="246.3" cy="337.7" r="1.6" fill="#0000ff" stroke="#2f4fa8" stroke-width="0.7" stroke-opacity="0.55"/>
<circle cx="243.9" cy="341.9" r="1.6" fill="#0000ff" stroke="#2f4fa8" stroke-width="0.7" stroke-opacity="0.55"/>
<circle cx="249.2" cy="345.1" r="1.6" fill="#0000ff" stroke="#2f4fa8" stroke-width="0.7" stroke-opacity="0.55"/>
<circle cx="252.7" cy="343.6" r="1.6" fill="#0000ff" stroke="#2f4fa8" stroke-width="0.7" stroke-opacity="0.55"/>
<circle cx="259.8" cy="341.4" r="1.6" fill="#0000ff" stroke="#2f4fa8" stroke-width="0.7" stroke-opacity="0.55"/>
<circle cx="249.5" cy="353.0" r="1.6" fill="#0000ff" stroke="#2f4fa8" stroke-width="0.7" stroke-opacity="0.55"/>
<line x1="205.7" y1="348.1" x2="305.9" y2="288.8" stroke="#000" stroke-width="0.9"/>
<text x="0" y="0" font-size="9.5" text-anchor="middle" transform="translate(276.5 393.1) scale(1 1.13)"><tspan font-weight="bold">HS</tspan> (%)</text>
<text x="0" y="0" font-size="9.6" text-anchor="middle" transform="translate(186.8 307.4) rotate(-90) scale(1 1.13)"><tspan font-weight="bold">HOMA-IR</tspan></text>
<text x="0" y="0" font-size="11.6" transform="translate(250.9 248) scale(1 1.03)"><tspan font-style="italic">r</tspan> : 0.55</text>
<line x1="367.8" y1="245.4" x2="367.8" y2="366.2" stroke="#a8a8a8" stroke-width="1.0"/>
<line x1="365.3" y1="366.2" x2="367.8" y2="366.2" stroke="#a8a8a8" stroke-width="0.9"/>
<text x="359.40000000000003" y="369.15" font-size="8.2" text-anchor="end" fill="#222">0</text>
<line x1="365.3" y1="346.06666666666666" x2="367.8" y2="346.06666666666666" stroke="#a8a8a8" stroke-width="0.9"/>
<text x="359.40000000000003" y="349.01666666666665" font-size="8.2" text-anchor="end" fill="#222">1</text>
<line x1="365.3" y1="325.93333333333334" x2="367.8" y2="325.93333333333334" stroke="#a8a8a8" stroke-width="0.9"/>
<text x="359.40000000000003" y="328.8833333333333" font-size="8.2" text-anchor="end" fill="#222">2</text>
<line x1="365.3" y1="305.8" x2="367.8" y2="305.8" stroke="#a8a8a8" stroke-width="0.9"/>
<text x="359.40000000000003" y="308.75" font-size="8.2" text-anchor="end" fill="#222">3</text>
<line x1="365.3" y1="285.6666666666667" x2="367.8" y2="285.6666666666667" stroke="#a8a8a8" stroke-width="0.9"/>
<text x="359.40000000000003" y="288.6166666666667" font-size="8.2" text-anchor="end" fill="#222">4</text>
<line x1="365.3" y1="265.53333333333336" x2="367.8" y2="265.53333333333336" stroke="#a8a8a8" stroke-width="0.9"/>
<text x="359.40000000000003" y="268.48333333333335" font-size="8.2" text-anchor="end" fill="#222">5</text>
<line x1="365.3" y1="245.4" x2="367.8" y2="245.4" stroke="#a8a8a8" stroke-width="0.9"/>
<text x="359.40000000000003" y="248.35" font-size="8.2" text-anchor="end" fill="#222">6</text>
<line x1="367.8" y1="366.2" x2="484.2" y2="366.2" stroke="#a8a8a8" stroke-width="1.0"/>
<line x1="367.8" y1="366.2" x2="367.8" y2="368.7" stroke="#a8a8a8" stroke-width="0.9"/>
<text x="0" y="0" font-size="8.2" transform="translate(367.8 382.2) scale(1 1.14)" text-anchor="middle" fill="#222">0</text>
<line x1="382.35" y1="366.2" x2="382.35" y2="368.7" stroke="#a8a8a8" stroke-width="0.9"/>
<text x="0" y="0" font-size="8.2" transform="translate(382.35 382.2) scale(1 1.14)" text-anchor="middle" fill="#222">5</text>
<line x1="396.9" y1="366.2" x2="396.9" y2="368.7" stroke="#a8a8a8" stroke-width="0.9"/>
<text x="0" y="0" font-size="8.2" transform="translate(396.9 382.2) scale(1 1.14)" text-anchor="middle" fill="#222">10</text>
<line x1="411.45" y1="366.2" x2="411.45" y2="368.7" stroke="#a8a8a8" stroke-width="0.9"/>
<text x="0" y="0" font-size="8.2" transform="translate(411.45 382.2) scale(1 1.14)" text-anchor="middle" fill="#222">15</text>
<line x1="426.0" y1="366.2" x2="426.0" y2="368.7" stroke="#a8a8a8" stroke-width="0.9"/>
<text x="0" y="0" font-size="8.2" transform="translate(426.0 382.2) scale(1 1.14)" text-anchor="middle" fill="#222">20</text>
<line x1="440.55" y1="366.2" x2="440.55" y2="368.7" stroke="#a8a8a8" stroke-width="0.9"/>
<text x="0" y="0" font-size="8.2" transform="translate(440.55 382.2) scale(1 1.14)" text-anchor="middle" fill="#222">25</text>
<line x1="455.1" y1="366.2" x2="455.1" y2="368.7" stroke="#a8a8a8" stroke-width="0.9"/>
<text x="0" y="0" font-size="8.2" transform="translate(455.1 382.2) scale(1 1.14)" text-anchor="middle" fill="#222">30</text>
<line x1="469.65" y1="366.2" x2="469.65" y2="368.7" stroke="#a8a8a8" stroke-width="0.9"/>
<text x="0" y="0" font-size="8.2" transform="translate(469.65 382.2) scale(1 1.14)" text-anchor="middle" fill="#222">35</text>
<line x1="484.2" y1="366.2" x2="484.2" y2="368.7" stroke="#a8a8a8" stroke-width="0.9"/>
<text x="0" y="0" font-size="8.2" transform="translate(484.2 382.2) scale(1 1.14)" text-anchor="middle" fill="#222">40</text>
<circle cx="381.2" cy="293.8" r="1.6" fill="#0000ff" stroke="#2f4fa8" stroke-width="0.7" stroke-opacity="0.55"/>
<circle cx="385.4" cy="298.3" r="1.6" fill="#0000ff" stroke="#2f4fa8" stroke-width="0.7" stroke-opacity="0.55"/>
<circle cx="382.4" cy="302.7" r="1.6" fill="#0000ff" stroke="#2f4fa8" stroke-width="0.7" stroke-opacity="0.55"/>
<circle cx="381.8" cy="305.7" r="1.6" fill="#0000ff" stroke="#2f4fa8" stroke-width="0.7" stroke-opacity="0.55"/>
<circle cx="382.8" cy="309.7" r="1.6" fill="#0000ff" stroke="#2f4fa8" stroke-width="0.7" stroke-opacity="0.55"/>
<circle cx="381.8" cy="312.1" r="1.6" fill="#0000ff" stroke="#2f4fa8" stroke-width="0.7" stroke-opacity="0.55"/>
<circle cx="376.5" cy="315.7" r="1.6" fill="#0000ff" stroke="#2f4fa8" stroke-width="0.7" stroke-opacity="0.55"/>
<circle cx="374.0" cy="316.7" r="1.6" fill="#0000ff" stroke="#2f4fa8" stroke-width="0.7" stroke-opacity="0.55"/>
<circle cx="396.9" cy="312.8" r="1.6" fill="#0000ff" stroke="#2f4fa8" stroke-width="0.7" stroke-opacity="0.55"/>
<circle cx="396.9" cy="316.4" r="1.6" fill="#0000ff" stroke="#2f4fa8" stroke-width="0.7" stroke-opacity="0.55"/>
<circle cx="398.8" cy="318.6" r="1.6" fill="#0000ff" stroke="#2f4fa8" stroke-width="0.7" stroke-opacity="0.55"/>
<circle cx="391.6" cy="319.1" r="1.6" fill="#0000ff" stroke="#2f4fa8" stroke-width="0.7" stroke-opacity="0.55"/>
<circle cx="393.7" cy="320.1" r="1.6" fill="#0000ff" stroke="#2f4fa8" stroke-width="0.7" stroke-opacity="0.55"/>
<circle cx="387.8" cy="320.3" r="1.6" fill="#0000ff" stroke="#2f4fa8" stroke-width="0.7" stroke-opacity="0.55"/>
<circle cx="371.7" cy="321.7" r="1.6" fill="#0000ff" stroke="#2f4fa8" stroke-width="0.7" stroke-opacity="0.55"/>
<circle cx="393.9" cy="324.4" r="1.6" fill="#0000ff" stroke="#2f4fa8" stroke-width="0.7" stroke-opacity="0.55"/>
<circle cx="402.2" cy="324.6" r="1.6" fill="#0000ff" stroke="#2f4fa8" stroke-width="0.7" stroke-opacity="0.55"/>
<circle cx="370.0" cy="328.0" r="1.6" fill="#0000ff" stroke="#2f4fa8" stroke-width="0.7" stroke-opacity="0.55"/>
<circle cx="370.8" cy="329.0" r="1.6" fill="#0000ff" stroke="#2f4fa8" stroke-width="0.7" stroke-opacity="0.55"/>
<circle cx="381.0" cy="326.9" r="1.6" fill="#0000ff" stroke="#2f4fa8" stroke-width="0.7" stroke-opacity="0.55"/>
<circle cx="382.8" cy="328.2" r="1.6" fill="#0000ff" stroke="#2f4fa8" stroke-width="0.7" stroke-opacity="0.55"/>
<circle cx="377.8" cy="329.0" r="1.6" fill="#0000ff" stroke="#2f4fa8" stroke-width="0.7" stroke-opacity="0.55"/>
<circle cx="376.5" cy="330.8" r="1.6" fill="#0000ff" stroke="#2f4fa8" stroke-width="0.7" stroke-opacity="0.55"/>
<circle cx="391.1" cy="327.0" r="1.6" fill="#0000ff" stroke="#2f4fa8" stroke-width="0.7" stroke-opacity="0.55"/>
<circle cx="392.1" cy="330.3" r="1.6" fill="#0000ff" stroke="#2f4fa8" stroke-width="0.7" stroke-opacity="0.55"/>
<circle cx="380.3" cy="332.1" r="1.6" fill="#0000ff" stroke="#2f4fa8" stroke-width="0.7" stroke-opacity="0.55"/>
<circle cx="384.0" cy="332.0" r="1.6" fill="#0000ff" stroke="#2f4fa8" stroke-width="0.7" stroke-opacity="0.55"/>
<circle cx="384.8" cy="333.1" r="1.6" fill="#0000ff" stroke="#2f4fa8" stroke-width="0.7" stroke-opacity="0.55"/>
<circle cx="375.7" cy="334.3" r="1.6" fill="#0000ff" stroke="#2f4fa8" stroke-width="0.7" stroke-opacity="0.55"/>
<circle cx="380.5" cy="334.6" r="1.6" fill="#0000ff" stroke="#2f4fa8" stroke-width="0.7" stroke-opacity="0.55"/>
<circle cx="386.7" cy="336.3" r="1.6" fill="#0000ff" stroke="#2f4fa8" stroke-width="0.7" stroke-opacity="0.55"/>
<circle cx="370.2" cy="334.8" r="1.6" fill="#0000ff" stroke="#2f4fa8" stroke-width="0.7" stroke-opacity="0.55"/>
<circle cx="373.1" cy="337.3" r="1.6" fill="#0000ff" stroke="#2f4fa8" stroke-width="0.7" stroke-opacity="0.55"/>
<circle cx="370.8" cy="338.3" r="1.6" fill="#0000ff" stroke="#2f4fa8" stroke-width="0.7" stroke-opacity="0.55"/>
<circle cx="376.5" cy="338.3" r="1.6" fill="#0000ff" stroke="#2f4fa8" stroke-width="0.7" stroke-opacity="0.55"/>
<circle cx="378.0" cy="338.3" r="1.6" fill="#0000ff" stroke="#2f4fa8" stroke-width="0.7" stroke-opacity="0.55"/>
<circle cx="380.0" cy="336.7" r="1.6" fill="#0000ff" stroke="#2f4fa8" stroke-width="0.7" stroke-opacity="0.55"/>
<circle cx="382.8" cy="338.3" r="1.6" fill="#0000ff" stroke="#2f4fa8" stroke-width="0.7" stroke-opacity="0.55"/>
<circle cx="385.6" cy="338.6" r="1.6" fill="#0000ff" stroke="#2f4fa8" stroke-width="0.7" stroke-opacity="0.55"/>
<circle cx="368.5" cy="339.7" r="1.6" fill="#0000ff" stroke="#2f4fa8" stroke-width="0.7" stroke-opacity="0.55"/>
<circle cx="371.6" cy="340.8" r="1.6" fill="#0000ff" stroke="#2f4fa8" stroke-width="0.7" stroke-opacity="0.55"/>
<circle cx="368.2" cy="342.0" r="1.6" fill="#0000ff" stroke="#2f4fa8" stroke-width="0.7" stroke-opacity="0.55"/>
<circle cx="374.2" cy="342.0" r="1.6" fill="#0000ff" stroke="#2f4fa8" stroke-width="0.7" stroke-opacity="0.55"/>
<circle cx="382.9" cy="341.2" r="1.6" fill="#0000ff" stroke="#2f4fa8" stroke-width="0.7" stroke-opacity="0.55"/>
<circle cx="391.7" cy="341.0" r="1.6" fill="#0000ff" stroke="#2f4fa8" stroke-width="0.7" stroke-opacity="0.55"/>
<circle cx="394.8" cy="341.3" r="1.6" fill="#0000ff" stroke="#2f4fa8" stroke-width="0.7" stroke-opacity="0.55"/>
<circle cx="377.2" cy="340.0" r="1.6" fill="#0000ff" stroke="#2f4fa8" stroke-width="0.7" stroke-opacity="0.55"/>
<circle cx="369.9" cy="345.0" r="1.6" fill="#0000ff" stroke="#2f4fa8" stroke-width="0.7" stroke-opacity="0.55"/>
<circle cx="373.2" cy="345.0" r="1.6" fill="#0000ff" stroke="#2f4fa8" stroke-width="0.7" stroke-opacity="0.55"/>
<circle cx="382.3" cy="346.5" r="1.6" fill="#0000ff" stroke="#2f4fa8" stroke-width="0.7" stroke-opacity="0.55"/>
<circle cx="385.3" cy="348.0" r="1.6" fill="#0000ff" stroke="#2f4fa8" stroke-width="0.7" stroke-opacity="0.55"/>
<circle cx="386.8" cy="349.5" r="1.6" fill="#0000ff" stroke="#2f4fa8" stroke-width="0.7" stroke-opacity="0.55"/>
<circle cx="371.6" cy="349.1" r="1.6" fill="#0000ff" stroke="#2f4fa8" stroke-width="0.7" stroke-opacity="0.55"/>
<circle cx="375.2" cy="348.7" r="1.6" fill="#0000ff" stroke="#2f4fa8" stroke-width="0.7" stroke-opacity="0.55"/>
<circle cx="394.4" cy="353.3" r="1.6" fill="#0000ff" stroke="#2f4fa8" stroke-width="0.7" stroke-opacity="0.55"/>
<circle cx="405.0" cy="344.9" r="1.6" fill="#0000ff" stroke="#2f4fa8" stroke-width="0.7" stroke-opacity="0.55"/>
<circle cx="410.6" cy="354.9" r="1.6" fill="#0000ff" stroke="#2f4fa8" stroke-width="0.7" stroke-opacity="0.55"/>
<circle cx="410.6" cy="297.4" r="1.6" fill="#0000ff" stroke="#2f4fa8" stroke-width="0.7" stroke-opacity="0.55"/>
<circle cx="420.6" cy="304.4" r="1.6" fill="#0000ff" stroke="#2f4fa8" stroke-width="0.7" stroke-opacity="0.55"/>
<circle cx="417.8" cy="307.8" r="1.6" fill="#0000ff" stroke="#2f4fa8" stroke-width="0.7" stroke-opacity="0.55"/>
<circle cx="414.2" cy="309.8" r="1.6" fill="#0000ff" stroke="#2f4fa8" stroke-width="0.7" stroke-opacity="0.55"/>
<circle cx="408.5" cy="308.8" r="1.6" fill="#0000ff" stroke="#2f4fa8" stroke-width="0.7" stroke-opacity="0.55"/>
<circle cx="433.3" cy="307.5" r="1.6" fill="#0000ff" stroke="#2f4fa8" stroke-width="0.7" stroke-opacity="0.55"/>
<circle cx="407.4" cy="317.8" r="1.6" fill="#0000ff" stroke="#2f4fa8" stroke-width="0.7" stroke-opacity="0.55"/>
<circle cx="405.2" cy="321.8" r="1.6" fill="#0000ff" stroke="#2f4fa8" stroke-width="0.7" stroke-opacity="0.55"/>
<circle cx="410.5" cy="322.6" r="1.6" fill="#0000ff" stroke="#2f4fa8" stroke-width="0.7" stroke-opacity="0.55"/>
<circle cx="412.0" cy="325.6" r="1.6" fill="#0000ff" stroke="#2f4fa8" stroke-width="0.7" stroke-opacity="0.55"/>
<circle cx="413.7" cy="325.2" r="1.6" fill="#0000ff" stroke="#2f4fa8" stroke-width="0.7" stroke-opacity="0.55"/>
<circle cx="423.3" cy="320.5" r="1.6" fill="#0000ff" stroke="#2f4fa8" stroke-width="0.7" stroke-opacity="0.55"/>
<circle cx="407.1" cy="329.2" r="1.6" fill="#0000ff" stroke="#2f4fa8" stroke-width="0.7" stroke-opacity="0.55"/>
<circle cx="412.5" cy="330.1" r="1.6" fill="#0000ff" stroke="#2f4fa8" stroke-width="0.7" stroke-opacity="0.55"/>
<circle cx="416.5" cy="332.4" r="1.6" fill="#0000ff" stroke="#2f4fa8" stroke-width="0.7" stroke-opacity="0.55"/>
<circle cx="407.7" cy="335.8" r="1.6" fill="#0000ff" stroke="#2f4fa8" stroke-width="0.7" stroke-opacity="0.55"/>
<circle cx="427.1" cy="338.3" r="1.6" fill="#0000ff" stroke="#2f4fa8" stroke-width="0.7" stroke-opacity="0.55"/>
<circle cx="432.2" cy="338.8" r="1.6" fill="#0000ff" stroke="#2f4fa8" stroke-width="0.7" stroke-opacity="0.55"/>
<circle cx="427.2" cy="264.7" r="1.6" fill="#0000ff" stroke="#2f4fa8" stroke-width="0.7" stroke-opacity="0.55"/>
<circle cx="465.1" cy="312.8" r="1.6" fill="#0000ff" stroke="#2f4fa8" stroke-width="0.7" stroke-opacity="0.55"/>
<circle cx="464.8" cy="329.4" r="1.6" fill="#0000ff" stroke="#2f4fa8" stroke-width="0.7" stroke-opacity="0.55"/>
<line x1="367.8" y1="334.8" x2="465.7" y2="308.3" stroke="#000" stroke-width="0.9"/>
<text x="0" y="0" font-size="9.5" text-anchor="middle" transform="translate(425.9 392.5) scale(1 1.13)"><tspan font-weight="bold">HS</tspan> (%)</text>
<text x="0" y="0" font-size="9.8" text-anchor="middle" transform="translate(349.0 305.2) rotate(-90) scale(1 1.13)"><tspan font-weight="bold">TG</tspan> (mmol/L)</text>
<text x="0" y="0" font-size="11.6" transform="translate(410.9 248) scale(1 1.03)"><tspan font-style="italic">r</tspan> : 0.36</text>
<line x1="549.3" y1="245.6" x2="549.3" y2="366.0" stroke="#a8a8a8" stroke-width="1.0"/>
<line x1="546.8" y1="366.0" x2="549.3" y2="366.0" stroke="#a8a8a8" stroke-width="0.9"/>
<text x="542.9" y="368.95" font-size="8.2" text-anchor="end" fill="#222">0</text>
<line x1="546.8" y1="341.92" x2="549.3" y2="341.92" stroke="#a8a8a8" stroke-width="0.9"/>
<text x="542.9" y="344.87" font-size="8.2" text-anchor="end" fill="#222">20</text>
<line x1="546.8" y1="317.84000000000003" x2="549.3" y2="317.84000000000003" stroke="#a8a8a8" stroke-width="0.9"/>
<text x="542.9" y="320.79" font-size="8.2" text-anchor="end" fill="#222">40</text>
<line x1="546.8" y1="293.76" x2="549.3" y2="293.76" stroke="#a8a8a8" stroke-width="0.9"/>
<text x="542.9" y="296.71" font-size="8.2" text-anchor="end" fill="#222">60</text>
<line x1="546.8" y1="269.68" x2="549.3" y2="269.68" stroke="#a8a8a8" stroke-width="0.9"/>
<text x="542.9" y="272.63" font-size="8.2" text-anchor="end" fill="#222">80</text>
<line x1="546.8" y1="245.60000000000002" x2="549.3" y2="245.60000000000002" stroke="#a8a8a8" stroke-width="0.9"/>
<text x="542.9" y="248.55" font-size="8.2" text-anchor="end" fill="#222">100</text>
<line x1="549.3" y1="366.0" x2="666.1" y2="366.0" stroke="#a8a8a8" stroke-width="1.0"/>
<line x1="549.3" y1="366.0" x2="549.3" y2="368.5" stroke="#a8a8a8" stroke-width="0.9"/>
<text x="549.3" y="378.8" font-size="8.2" text-anchor="middle" fill="#222">0</text>
<line x1="563.9" y1="366.0" x2="563.9" y2="368.5" stroke="#a8a8a8" stroke-width="0.9"/>
<text x="563.9" y="378.8" font-size="8.2" text-anchor="middle" fill="#222">5</text>
<line x1="578.5" y1="366.0" x2="578.5" y2="368.5" stroke="#a8a8a8" stroke-width="0.9"/>
<text x="578.5" y="378.8" font-size="8.2" text-anchor="middle" fill="#222">10</text>
<line x1="593.1" y1="366.0" x2="593.1" y2="368.5" stroke="#a8a8a8" stroke-width="0.9"/>
<text x="593.1" y="378.8" font-size="8.2" text-anchor="middle" fill="#222">15</text>
<line x1="607.7" y1="366.0" x2="607.7" y2="368.5" stroke="#a8a8a8" stroke-width="0.9"/>
<text x="607.7" y="378.8" font-size="8.2" text-anchor="middle" fill="#222">20</text>
<line x1="622.3" y1="366.0" x2="622.3" y2="368.5" stroke="#a8a8a8" stroke-width="0.9"/>
<text x="622.3" y="378.8" font-size="8.2" text-anchor="middle" fill="#222">25</text>
<line x1="636.9" y1="366.0" x2="636.9" y2="368.5" stroke="#a8a8a8" stroke-width="0.9"/>
<text x="636.9" y="378.8" font-size="8.2" text-anchor="middle" fill="#222">30</text>
<line x1="651.5" y1="366.0" x2="651.5" y2="368.5" stroke="#a8a8a8" stroke-width="0.9"/>
<text x="651.5" y="378.8" font-size="8.2" text-anchor="middle" fill="#222">35</text>
<line x1="666.1" y1="366.0" x2="666.1" y2="368.5" stroke="#a8a8a8" stroke-width="0.9"/>
<text x="666.1" y="378.8" font-size="8.2" text-anchor="middle" fill="#222">40</text>
<circle cx="589.4" cy="261.0" r="1.6" fill="#0000ff" stroke="#2f4fa8" stroke-width="0.7" stroke-opacity="0.55"/>
<circle cx="615.2" cy="269.4" r="1.6" fill="#0000ff" stroke="#2f4fa8" stroke-width="0.7" stroke-opacity="0.55"/>
<circle cx="605.2" cy="282.7" r="1.6" fill="#0000ff" stroke="#2f4fa8" stroke-width="0.7" stroke-opacity="0.55"/>
<circle cx="602.4" cy="288.7" r="1.6" fill="#0000ff" stroke="#2f4fa8" stroke-width="0.7" stroke-opacity="0.55"/>
<circle cx="554.6" cy="309.1" r="1.6" fill="#0000ff" stroke="#2f4fa8" stroke-width="0.7" stroke-opacity="0.55"/>
<circle cx="558.3" cy="310.5" r="1.6" fill="#0000ff" stroke="#2f4fa8" stroke-width="0.7" stroke-opacity="0.55"/>
<circle cx="564.1" cy="311.7" r="1.6" fill="#0000ff" stroke="#2f4fa8" stroke-width="0.7" stroke-opacity="0.55"/>
<circle cx="578.5" cy="308.0" r="1.6" fill="#0000ff" stroke="#2f4fa8" stroke-width="0.7" stroke-opacity="0.55"/>
<circle cx="584.0" cy="305.7" r="1.6" fill="#0000ff" stroke="#2f4fa8" stroke-width="0.7" stroke-opacity="0.55"/>
<circle cx="586.9" cy="303.1" r="1.6" fill="#0000ff" stroke="#2f4fa8" stroke-width="0.7" stroke-opacity="0.55"/>
<circle cx="614.2" cy="310.6" r="1.6" fill="#0000ff" stroke="#2f4fa8" stroke-width="0.7" stroke-opacity="0.55"/>
<circle cx="647.6" cy="299.7" r="1.6" fill="#0000ff" stroke="#2f4fa8" stroke-width="0.7" stroke-opacity="0.55"/>
<circle cx="647.1" cy="315.1" r="1.6" fill="#0000ff" stroke="#2f4fa8" stroke-width="0.7" stroke-opacity="0.55"/>
<circle cx="549.6" cy="316.5" r="1.6" fill="#0000ff" stroke="#2f4fa8" stroke-width="0.7" stroke-opacity="0.55"/>
<circle cx="552.2" cy="321.0" r="1.6" fill="#0000ff" stroke="#2f4fa8" stroke-width="0.7" stroke-opacity="0.55"/>
<circle cx="566.3" cy="320.1" r="1.6" fill="#0000ff" stroke="#2f4fa8" stroke-width="0.7" stroke-opacity="0.55"/>
<circle cx="573.8" cy="318.8" r="1.6" fill="#0000ff" stroke="#2f4fa8" stroke-width="0.7" stroke-opacity="0.55"/>
<circle cx="580.4" cy="320.1" r="1.6" fill="#0000ff" stroke="#2f4fa8" stroke-width="0.7" stroke-opacity="0.55"/>
<circle cx="586.1" cy="320.1" r="1.6" fill="#0000ff" stroke="#2f4fa8" stroke-width="0.7" stroke-opacity="0.55"/>
<circle cx="592.5" cy="317.5" r="1.6" fill="#0000ff" stroke="#2f4fa8" stroke-width="0.7" stroke-opacity="0.55"/>
<circle cx="599.7" cy="316.5" r="1.6" fill="#0000ff" stroke="#2f4fa8" stroke-width="0.7" stroke-opacity="0.55"/>
<circle cx="596.0" cy="321.3" r="1.6" fill="#0000ff" stroke="#2f4fa8" stroke-width="0.7" stroke-opacity="0.55"/>
<circle cx="608.9" cy="319.0" r="1.6" fill="#0000ff" stroke="#2f4fa8" stroke-width="0.7" stroke-opacity="0.55"/>
<circle cx="556.6" cy="324.8" r="1.6" fill="#0000ff" stroke="#2f4fa8" stroke-width="0.7" stroke-opacity="0.55"/>
<circle cx="565.3" cy="324.8" r="1.6" fill="#0000ff" stroke="#2f4fa8" stroke-width="0.7" stroke-opacity="0.55"/>
<circle cx="564.1" cy="327.3" r="1.6" fill="#0000ff" stroke="#2f4fa8" stroke-width="0.7" stroke-opacity="0.55"/>
<circle cx="568.3" cy="327.1" r="1.6" fill="#0000ff" stroke="#2f4fa8" stroke-width="0.7" stroke-opacity="0.55"/>
<circle cx="566.8" cy="329.6" r="1.6" fill="#0000ff" stroke="#2f4fa8" stroke-width="0.7" stroke-opacity="0.55"/>
<circle cx="576.2" cy="326.0" r="1.6" fill="#0000ff" stroke="#2f4fa8" stroke-width="0.7" stroke-opacity="0.55"/>
<circle cx="573.1" cy="328.4" r="1.6" fill="#0000ff" stroke="#2f4fa8" stroke-width="0.7" stroke-opacity="0.55"/>
<circle cx="588.9" cy="326.2" r="1.6" fill="#0000ff" stroke="#2f4fa8" stroke-width="0.7" stroke-opacity="0.55"/>
<circle cx="594.2" cy="327.3" r="1.6" fill="#0000ff" stroke="#2f4fa8" stroke-width="0.7" stroke-opacity="0.55"/>
<circle cx="595.5" cy="328.6" r="1.6" fill="#0000ff" stroke="#2f4fa8" stroke-width="0.7" stroke-opacity="0.55"/>
<circle cx="608.9" cy="329.8" r="1.6" fill="#0000ff" stroke="#2f4fa8" stroke-width="0.7" stroke-opacity="0.55"/>
<circle cx="557.3" cy="330.9" r="1.6" fill="#0000ff" stroke="#2f4fa8" stroke-width="0.7" stroke-opacity="0.55"/>
<circle cx="561.0" cy="330.9" r="1.6" fill="#0000ff" stroke="#2f4fa8" stroke-width="0.7" stroke-opacity="0.55"/>
<circle cx="564.1" cy="331.1" r="1.6" fill="#0000ff" stroke="#2f4fa8" stroke-width="0.7" stroke-opacity="0.55"/>
<circle cx="572.6" cy="333.2" r="1.6" fill="#0000ff" stroke="#2f4fa8" stroke-width="0.7" stroke-opacity="0.55"/>
<circle cx="552.0" cy="334.5" r="1.6" fill="#0000ff" stroke="#2f4fa8" stroke-width="0.7" stroke-opacity="0.55"/>
<circle cx="562.5" cy="333.8" r="1.6" fill="#0000ff" stroke="#2f4fa8" stroke-width="0.7" stroke-opacity="0.55"/>
<circle cx="592.1" cy="333.1" r="1.6" fill="#0000ff" stroke="#2f4fa8" stroke-width="0.7" stroke-opacity="0.55"/>
<circle cx="593.9" cy="334.5" r="1.6" fill="#0000ff" stroke="#2f4fa8" stroke-width="0.7" stroke-opacity="0.55"/>
<circle cx="598.3" cy="333.4" r="1.6" fill="#0000ff" stroke="#2f4fa8" stroke-width="0.7" stroke-opacity="0.55"/>
<circle cx="551.4" cy="338.0" r="1.6" fill="#0000ff" stroke="#2f4fa8" stroke-width="0.7" stroke-opacity="0.55"/>
<circle cx="569.3" cy="336.9" r="1.6" fill="#0000ff" stroke="#2f4fa8" stroke-width="0.7" stroke-opacity="0.55"/>
<circle cx="575.3" cy="337.1" r="1.6" fill="#0000ff" stroke="#2f4fa8" stroke-width="0.7" stroke-opacity="0.55"/>
<circle cx="591.9" cy="337.2" r="1.6" fill="#0000ff" stroke="#2f4fa8" stroke-width="0.7" stroke-opacity="0.55"/>
<circle cx="555.8" cy="339.7" r="1.6" fill="#0000ff" stroke="#2f4fa8" stroke-width="0.7" stroke-opacity="0.55"/>
<circle cx="558.7" cy="339.2" r="1.6" fill="#0000ff" stroke="#2f4fa8" stroke-width="0.7" stroke-opacity="0.55"/>
<circle cx="562.6" cy="337.8" r="1.6" fill="#0000ff" stroke="#2f4fa8" stroke-width="0.7" stroke-opacity="0.55"/>
<circle cx="564.0" cy="339.3" r="1.6" fill="#0000ff" stroke="#2f4fa8" stroke-width="0.7" stroke-opacity="0.55"/>
<circle cx="550.4" cy="340.1" r="1.6" fill="#0000ff" stroke="#2f4fa8" stroke-width="0.7" stroke-opacity="0.55"/>
<circle cx="559.5" cy="341.6" r="1.6" fill="#0000ff" stroke="#2f4fa8" stroke-width="0.7" stroke-opacity="0.55"/>
<circle cx="561.5" cy="341.8" r="1.6" fill="#0000ff" stroke="#2f4fa8" stroke-width="0.7" stroke-opacity="0.55"/>
<circle cx="563.8" cy="341.8" r="1.6" fill="#0000ff" stroke="#2f4fa8" stroke-width="0.7" stroke-opacity="0.55"/>
<circle cx="566.8" cy="341.8" r="1.6" fill="#0000ff" stroke="#2f4fa8" stroke-width="0.7" stroke-opacity="0.55"/>
<circle cx="568.5" cy="341.8" r="1.6" fill="#0000ff" stroke="#2f4fa8" stroke-width="0.7" stroke-opacity="0.55"/>
<circle cx="559.5" cy="343.1" r="1.6" fill="#0000ff" stroke="#2f4fa8" stroke-width="0.7" stroke-opacity="0.55"/>
<circle cx="583.6" cy="341.8" r="1.6" fill="#0000ff" stroke="#2f4fa8" stroke-width="0.7" stroke-opacity="0.55"/>
<circle cx="551.4" cy="344.0" r="1.6" fill="#0000ff" stroke="#2f4fa8" stroke-width="0.7" stroke-opacity="0.55"/>
<circle cx="555.7" cy="345.2" r="1.6" fill="#0000ff" stroke="#2f4fa8" stroke-width="0.7" stroke-opacity="0.55"/>
<circle cx="564.1" cy="345.5" r="1.6" fill="#0000ff" stroke="#2f4fa8" stroke-width="0.7" stroke-opacity="0.55"/>
<circle cx="573.3" cy="345.5" r="1.6" fill="#0000ff" stroke="#2f4fa8" stroke-width="0.7" stroke-opacity="0.55"/>
<circle cx="576.1" cy="344.3" r="1.6" fill="#0000ff" stroke="#2f4fa8" stroke-width="0.7" stroke-opacity="0.55"/>
<circle cx="590.2" cy="345.5" r="1.6" fill="#0000ff" stroke="#2f4fa8" stroke-width="0.7" stroke-opacity="0.55"/>
<circle cx="553.2" cy="347.3" r="1.6" fill="#0000ff" stroke="#2f4fa8" stroke-width="0.7" stroke-opacity="0.55"/>
<circle cx="551.7" cy="348.8" r="1.6" fill="#0000ff" stroke="#2f4fa8" stroke-width="0.7" stroke-opacity="0.55"/>
<circle cx="554.2" cy="348.0" r="1.6" fill="#0000ff" stroke="#2f4fa8" stroke-width="0.7" stroke-opacity="0.55"/>
<circle cx="550.9" cy="350.3" r="1.6" fill="#0000ff" stroke="#2f4fa8" stroke-width="0.7" stroke-opacity="0.55"/>
<circle cx="557.2" cy="350.3" r="1.6" fill="#0000ff" stroke="#2f4fa8" stroke-width="0.7" stroke-opacity="0.55"/>
<circle cx="561.7" cy="350.3" r="1.6" fill="#0000ff" stroke="#2f4fa8" stroke-width="0.7" stroke-opacity="0.55"/>
<circle cx="567.0" cy="349.0" r="1.6" fill="#0000ff" stroke="#2f4fa8" stroke-width="0.7" stroke-opacity="0.55"/>
<circle cx="578.7" cy="349.0" r="1.6" fill="#0000ff" stroke="#2f4fa8" stroke-width="0.7" stroke-opacity="0.55"/>
<circle cx="575.3" cy="351.6" r="1.6" fill="#0000ff" stroke="#2f4fa8" stroke-width="0.7" stroke-opacity="0.55"/>
<circle cx="559.5" cy="354.8" r="1.6" fill="#0000ff" stroke="#2f4fa8" stroke-width="0.7" stroke-opacity="0.55"/>
<line x1="549.3" y1="341.9" x2="647.8" y2="291.7" stroke="#000" stroke-width="0.9"/>
<text x="0" y="0" font-size="9.5" text-anchor="middle" transform="translate(618.3 392.1) scale(1 1.13)"><tspan font-weight="bold">HS</tspan> (%)</text>
<text x="0" y="0" font-size="9.7" text-anchor="middle" transform="translate(525.6 305.4) rotate(-90) scale(1 1.13)"><tspan font-weight="bold">ALT</tspan> (U/L)</text>
<text x="0" y="0" font-size="11.6" transform="translate(579.9 248) scale(1 1.03)"><tspan font-style="italic">r</tspan> : 0.55</text>
</svg>
</body></html>
